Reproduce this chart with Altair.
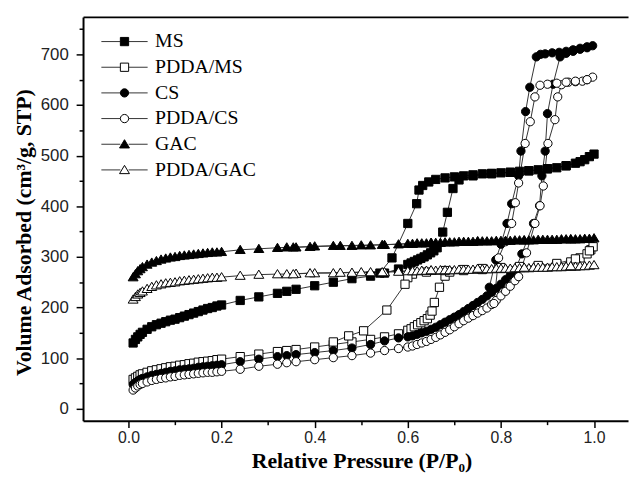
import altair as alt
import pandas as pd

SERIES = ["MS", "PDDA/MS", "CS", "PDDA/CS", "GAC", "PDDA/GAC"]
SIDS = ["s0", "s1", "s2", "s3", "s4", "s5"]
FILLS = ["black", "white", "black", "white", "black", "white"]
TRI = "M0,-1.1L1.2,0.9L-1.2,0.9Z"
SHAPES = ["square", "square", "circle", "circle", TRI, TRI]

# shared relative-pressure grids
P_LOW = [0.010, 0.015, 0.020, 0.025, 0.030, 0.040, 0.050, 0.060, 0.070, 0.080, 0.090,
         0.100, 0.110, 0.120, 0.130, 0.140, 0.150, 0.160, 0.170, 0.180, 0.190, 0.200]
P_MID = [0.24, 0.28, 0.32, 0.34, 0.36, 0.40, 0.44, 0.48, 0.52, 0.55, 0.58]
P_DENSE = [0.60, 0.61, 0.62, 0.63, 0.64, 0.65, 0.66, 0.67, 0.68, 0.69, 0.70,
           0.71, 0.72, 0.73, 0.74, 0.75, 0.76, 0.77, 0.78, 0.79, 0.80,
           0.81, 0.82, 0.83, 0.84, 0.85, 0.86, 0.87, 0.88, 0.89, 0.90,
           0.91, 0.92, 0.93, 0.94, 0.95, 0.96, 0.97, 0.98, 0.99, 1.00]
P_CS = [0.60, 0.61, 0.62, 0.63, 0.64, 0.65, 0.66, 0.67, 0.68, 0.69, 0.70, 0.71,
        0.72, 0.73, 0.74, 0.75, 0.76, 0.77, 0.78, 0.79, 0.80, 0.81, 0.82, 0.83]
P_GAC_DES = [0.95, 0.85, 0.75, 0.65, 0.545, 0.50, 0.455, 0.39, 0.354]

# MS
MS_LOW = [130, 137, 142, 147, 151, 157, 162, 166, 169, 172, 175, 177, 180, 183, 186, 189, 192, 195, 198, 200, 203, 205]
MS_MID = [214, 221, 228, 232, 236, 243, 250, 257, 262, 268, 276]
MS_ADS_P = [0.600, 0.607, 0.614, 0.621, 0.628, 0.635, 0.642, 0.649, 0.656, 0.663, 0.675, 0.685,
            0.697, 0.710, 0.740, 0.780, 0.820, 0.860, 0.900, 0.940, 0.970, 0.990]
MS_ADS_V = [285, 288, 291, 294, 297, 300, 304, 308, 312, 318, 349, 388,
            435, 452, 460, 464, 467, 470, 474, 480, 488, 498]
MS_DES_P = [1.000, 0.980, 0.960, 0.940, 0.920, 0.900, 0.880, 0.860, 0.840, 0.820, 0.800, 0.780,
            0.760, 0.740, 0.720, 0.700, 0.680, 0.660, 0.645, 0.632, 0.624, 0.619, 0.600, 0.566, 0.540]
MS_DES_V = [503, 492, 485, 480, 476, 474, 472, 470, 469, 467, 466, 465,
            464, 462, 460, 458, 456, 453, 448, 441, 432, 405, 366, 298, 268]

# PDDA/MS
PMS_LOW = [58, 61, 64, 67, 69, 72, 75, 77, 79, 81, 83, 84, 86, 87, 89, 90, 92, 93, 94, 95, 97, 98]
PMS_MID = [103, 108, 113, 115, 117, 122, 127, 132, 137, 142, 148]
PMS_ADS_P = [0.600, 0.607, 0.614, 0.621, 0.628, 0.635, 0.642, 0.648, 0.652, 0.657, 0.668, 0.680,
             0.690, 0.720, 0.760, 0.800, 0.840, 0.880, 0.920, 0.950, 0.970, 0.985, 0.993, 0.998]
PMS_ADS_V = [155, 158, 162, 166, 170, 174, 178, 185, 193, 210, 240, 262,
             270, 273, 275, 277, 279, 281, 285, 290, 298, 306, 314, 320]
PMS_DES_P = [0.990, 0.960, 0.920, 0.880, 0.840, 0.800, 0.760, 0.720, 0.680, 0.640, 0.610,
             0.600, 0.594, 0.555, 0.505, 0.473, 0.440]
PMS_DES_V = [312, 296, 287, 283, 281, 279, 277, 275, 273, 270, 266,
             259, 246, 195, 154, 144, 132]

# CS
CS_LOW = [48, 52, 55, 58, 60, 63, 66, 68, 70, 72, 74, 75, 77, 78, 79, 80, 82, 83, 84, 85, 86, 87]
CS_MID = [93, 98, 103, 105, 107, 111, 115, 120, 127, 134, 140]
CS_DENSE = [142, 144, 147, 150, 153, 157, 161, 166, 171, 176, 181, 186,
            192, 198, 204, 210, 216, 223, 230, 238, 246, 255, 264, 273]
CS_UP_P = [0.845, 0.870, 0.883, 0.888, 0.895, 0.900, 0.912, 0.927, 0.940, 0.955, 0.970, 0.985, 0.997]
CS_UP_V = [306, 366, 401, 460, 509, 583, 641, 695, 702, 706, 710, 713, 717]
CS_DES_P = [0.985, 0.970, 0.955, 0.940, 0.925, 0.910, 0.895, 0.885, 0.876, 0.862, 0.853,
            0.843, 0.838, 0.823, 0.813, 0.800, 0.789, 0.775]
CS_DES_V = [715, 712, 709, 706, 704, 703, 701, 700, 695, 635, 587,
            509, 460, 405, 366, 325, 294, 240]

# PDDA/CS
PCS_LOW = [37, 41, 45, 48, 50, 53, 56, 58, 60, 61, 63, 64, 66, 67, 68, 69, 70, 71, 72, 72, 73, 74]
PCS_MID = [78, 84, 88, 91, 93, 97, 101, 105, 110, 115, 119]
PCS_DENSE = [122, 124, 127, 130, 133, 137, 141, 146, 151, 156, 162, 168,
             174, 179, 184, 189, 194, 199, 206, 214, 223, 232, 242, 253]
PCS_UP_P = [0.838, 0.855, 0.873, 0.884, 0.891, 0.901, 0.916, 0.922, 0.930, 0.945, 0.960, 0.975, 0.985, 0.997]
PCS_UP_V = [261, 308, 366, 401, 440, 524, 571, 616, 640, 645, 646, 647, 650, 655]
PCS_DES_P = [0.985, 0.960, 0.940, 0.920, 0.900, 0.884, 0.873, 0.863, 0.852, 0.838, 0.831,
             0.823, 0.810, 0.795, 0.785]
PCS_DES_V = [650, 647, 645, 643, 641, 639, 616, 567, 524, 446, 407,
             366, 330, 298, 208]

# GAC
GAC_LOW = [260, 266, 272, 276, 280, 285, 289, 292, 295, 297, 299, 300, 302, 303, 304, 305, 306, 307, 308, 309, 309, 310]
GAC_MID = [314, 316, 318, 319, 319, 321, 322, 322, 323, 324, 325]
GAC_DENSE = [326, 326, 327, 327, 327, 328, 328, 328, 329, 329, 329, 330, 330, 330, 330,
             331, 331, 331, 331, 332, 332, 332, 332, 333, 333, 333, 333, 333,
             334, 334, 334, 334, 334, 335, 335, 335, 335, 335, 336, 336, 337]
GAC_DES_V = [335, 333, 331, 328, 324, 323, 322, 320, 319]

# PDDA/GAC
PG_LOW = [216, 221, 226, 229, 232, 237, 241, 244, 246, 248, 249, 250, 252, 253, 254, 255, 256, 257, 258, 259, 259, 260]
PG_MID = [263, 265, 266, 266, 267, 268, 268, 269, 270, 270, 271]
PG_DENSE = [272, 272, 272, 273, 273, 273, 273, 274, 274, 274, 274, 275, 275, 275, 275,
            276, 276, 276, 276, 277, 277, 277, 277, 278, 278, 278, 278, 279, 279, 279, 279,
            280, 280, 280, 281, 281, 281, 282, 282, 283, 284]
PG_DES_V = [282, 279, 277, 274, 270, 270, 269, 268, 266]

SEGMENTS = [
    [(P_LOW, MS_LOW), (P_MID, MS_MID), (MS_ADS_P, MS_ADS_V), (MS_DES_P, MS_DES_V)],
    [(P_LOW, PMS_LOW), (P_MID, PMS_MID), (PMS_ADS_P, PMS_ADS_V), (PMS_DES_P, PMS_DES_V)],
    [(P_LOW, CS_LOW), (P_MID, CS_MID), (P_CS, CS_DENSE), (CS_UP_P, CS_UP_V), (CS_DES_P, CS_DES_V)],
    [(P_LOW, PCS_LOW), (P_MID, PCS_MID), (P_CS, PCS_DENSE), (PCS_UP_P, PCS_UP_V), (PCS_DES_P, PCS_DES_V)],
    [(P_LOW, GAC_LOW), (P_MID, GAC_MID), (P_DENSE, GAC_DENSE), (P_GAC_DES, GAC_DES_V)],
    [(P_LOW, PG_LOW), (P_MID, PG_MID), (P_DENSE, PG_DENSE), (P_GAC_DES, PG_DES_V)],
]

rows = []
for i, segs in enumerate(SEGMENTS):
    k = 0
    for ps, vs in segs:
        for p, v in zip(ps, vs):
            rows.append({"series": SERIES[i], "sid": SIDS[i], "P": p, "V": v, "k": k})
            k += 1
df = pd.DataFrame(rows)

x_scale = alt.Scale(domain=[-0.0976, 1.073], nice=False, zero=False)
y_scale = alt.Scale(domain=[-23.5, 774], nice=False, zero=False)

TICK_FONT = "Liberation Sans"
SERIF = "Liberation Serif"

base = alt.Chart(df)

lines = base.mark_line(strokeWidth=1, color="#333").encode(
    x=alt.X("P:Q", scale=x_scale, axis=alt.Axis(
        values=[0, 0.2, 0.4, 0.6, 0.8, 1.0], format=".1f", orient="bottom",
        title="Relative Pressure (P/P\u2080)", titleFont=SERIF, titleFontWeight="bold",
        titleFontSize=22, titleColor="black", titleX=282, titleAlign="center",
        titleY=47, titleBaseline="alphabetic",
        labelFont=TICK_FONT, labelFontSize=16, labelColor="#222", labelPadding=2,
        domainColor="black", domainWidth=2, tickColor="black", tickWidth=1.5, tickSize=7,
        grid=False)),
    y=alt.Y("V:Q", scale=y_scale, axis=alt.Axis(
        values=[0, 100, 200, 300, 400, 500, 600, 700], orient="left",
        title="Volume Adsorbed (cm\u00b3/g, STP)", titleFont=SERIF, titleFontWeight="bold",
        titleFontSize=22, titleColor="black", titleX=-60, titleY=218,
        titleBaseline="middle", titleAlign="center",
        labelFont=TICK_FONT, labelFontSize=17, labelColor="#222", labelPadding=8,
        domainColor="black", domainWidth=2, tickColor="black", tickWidth=1.5, tickSize=7,
        grid=False)),
    stroke=alt.Stroke("sid:N", scale=alt.Scale(domain=SIDS, range=["#333"] * 6),
                      legend=alt.Legend(title=None, orient="none", legendX=32, legendY=15,
                                        symbolType="M-5.6,0H-1M1,0H5.6", symbolSize=70,
                                        symbolStrokeWidth=1, labelExpr="''",
                                        labelFontSize=20, rowPadding=6, padding=0)),
    order="k:Q",
)

points = base.mark_point(filled=True, strokeWidth=1, size=70, opacity=1).encode(
    x=alt.X("P:Q", scale=x_scale, axis=alt.Axis(
        values=[0.1, 0.3, 0.5, 0.7, 0.9], orient="bottom", labels=False, domain=False,
        title=None, tickColor="black", tickWidth=1.5, tickSize=4, grid=False)),
    y=alt.Y("V:Q", scale=y_scale, axis=alt.Axis(
        values=[50, 150, 250, 350, 450, 550, 650, 750], orient="left", labels=False,
        domain=False, title=None, tickColor="black", tickWidth=1.5, tickSize=4, grid=False)),
    fill=alt.Fill("series:N", scale=alt.Scale(domain=SERIES, range=FILLS)),
    stroke=alt.Stroke("series:N", scale=alt.Scale(domain=SERIES, range=["black"] * 6)),
    shape=alt.Shape("series:N", scale=alt.Scale(domain=SERIES, range=SHAPES),
                    legend=alt.Legend(title=None, orient="none", legendX=32, legendY=15,
                                      symbolSize=70, symbolStrokeColor="black",
                                      symbolStrokeWidth=1, labelFont=SERIF,
                                      labelFontSize=20, labelColor="black",
                                      labelOffset=21, rowPadding=6, padding=0)),
)

frame = base.mark_point(opacity=0).encode(
    x=alt.X("P:Q", scale=x_scale, axis=alt.Axis(
        orient="top", domain=True, domainColor="black", domainWidth=2, ticks=False,
        labels=False, title=None, grid=False)),
    y=alt.Y("V:Q", scale=y_scale, axis=None),
)

chart = alt.layer(lines, points, frame).resolve_axis(
    x="independent", y="independent"
).resolve_scale(
    stroke="independent"
).resolve_legend(
    stroke="independent", shape="independent", fill="independent"
).properties(
    width=552, height=409,
    padding={"left": 76, "top": 6, "right": 2, "bottom": 51},
    autosize=alt.AutoSizeParams(type="none"),
).configure_view(stroke="transparent")

chart.save("out.html", embed_options={"renderer": "svg", "actions": False})
